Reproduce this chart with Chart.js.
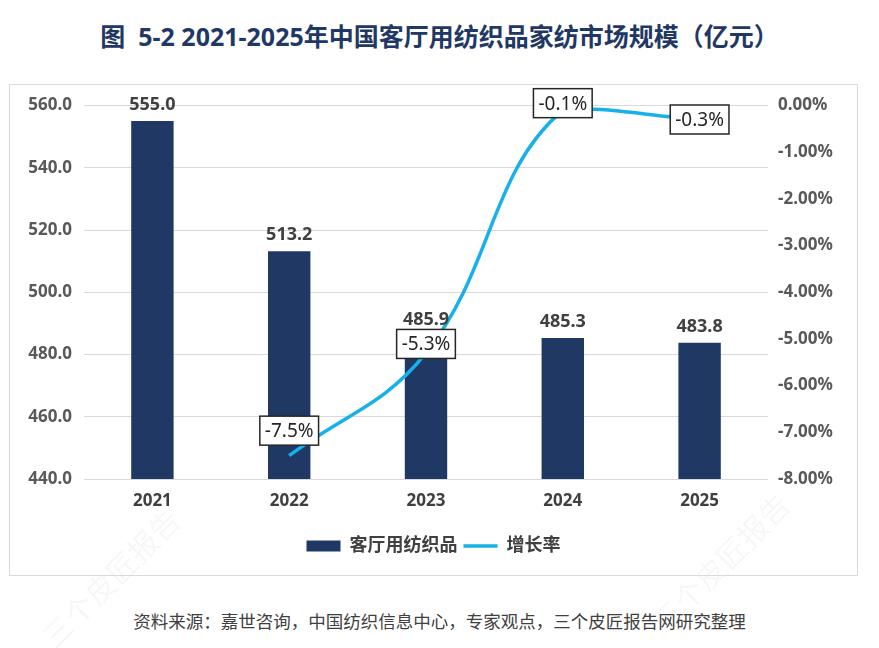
<!DOCTYPE html>
<html>
<head>
<meta charset="utf-8">
<script src="https://cdn.jsdelivr.net/npm/chart.js@4"></script>
<style>
body{margin:0;width:879px;height:648px;background:#fff;position:relative;overflow:hidden;font-family:"Noto Sans","Noto Sans CJK SC",sans-serif;}
#title{position:absolute;left:0;width:879px;top:17px;text-align:center;font-size:25px;font-weight:bold;color:#1f3864;white-space:pre;}
#box{position:absolute;left:9px;top:84px;width:847px;height:490px;border:1px solid #d9d9d9;}
#src{position:absolute;left:0;width:879px;top:608px;text-align:center;font-size:17.5px;color:#404040;}
.wm{position:absolute;font-size:30px;color:rgba(0,0,0,0.05);transform:rotate(-45deg);font-family:"Noto Sans CJK SC";}
</style>
</head>
<body>
<div id="title">图  5-2 2021-2025年中国客厅用纺织品家纺市场规模（亿元）</div>
<div class="wm" style="left:20px;top:555px;">三个皮匠报告</div>
<div class="wm" style="left:630px;top:540px;">三个皮匠报告</div>
<div id="box"><canvas id="c" width="847" height="490"></canvas></div>
<div id="src">资料来源：嘉世咨询，中国纺织信息中心，专家观点，三个皮匠报告网研究整理</div>
<script>
const years = ['2021','2022','2023','2024','2025'];
const marketSize = [555.0, 513.2, 485.9, 485.3, 483.8];
const growthRate = [null, -7.5, -5.3, -0.1, -0.3];
const leftTicks = [440, 460, 480, 500, 520, 540, 560];
const rightTicks = [-8, -7, -6, -5, -4, -3, -2, -1, 0];

const barColor = '#1f3864';
const lineColor = '#17b0e8';
const txt = '#404040';

// label nudges for the boxed growth values (pixels, as placed in the original)
const boxShift = [0, -25, -9, -7, 0];

const labelsPlugin = {
	id: 'labels',
	afterDatasetsDraw(chart){
		const ctx = chart.ctx;
		ctx.save();
		ctx.font = 'bold 18px "Noto Sans","Noto Sans CJK SC"';
		ctx.fillStyle = txt;
		ctx.textAlign = 'center';
		ctx.textBaseline = 'bottom';
		chart.getDatasetMeta(0).data.forEach((b, i) => {
			ctx.fillText(marketSize[i].toFixed(1), b.x, b.y - 7);
		});
		ctx.font = '19px "Noto Sans","Noto Sans CJK SC"';
		ctx.textBaseline = 'middle';
		chart.getDatasetMeta(1).data.forEach((p, i) => {
			if (growthRate[i] == null) return;
			const s = growthRate[i].toFixed(1) + '%';
			const w = ctx.measureText(s).width + 10, h = 29;
			const cy = p.y + boxShift[i];
			ctx.fillStyle = '#fff';
			ctx.fillRect(p.x - w/2, cy - h/2, w, h);
			ctx.lineWidth = 1.5;
			ctx.strokeStyle = '#262626';
			ctx.strokeRect(p.x - w/2, cy - h/2, w, h);
			ctx.fillStyle = '#262626';
			ctx.fillText(s, p.x, cy + 1);
		});
		ctx.restore();
	}
};

Chart.defaults.font.family = '"Noto Sans","Noto Sans CJK SC",sans-serif';

const chart = new Chart(document.getElementById('c'), {
	type: 'bar',
	data: {
		labels: years,
		datasets: [
			{label: '客厅用纺织品', data: marketSize, backgroundColor: barColor, yAxisID: 'y', order: 2, barPercentage: 0.62, categoryPercentage: 0.5, pointStyle: 'rect'},
			{label: '增长率', type: 'line', data: growthRate, borderColor: lineColor, backgroundColor: lineColor, borderWidth: 3.5, tension: 0.4, pointRadius: 0, yAxisID: 'y1', order: 1, pointStyle: 'line'}
		]
	},
	options: {
		responsive: false,
		animation: false,
		layout: {padding: {top: 19, bottom: 10}},
		plugins: {
			tooltip: {enabled: false},
			legend: {
				position: 'bottom',
				labels: {usePointStyle: true, pointStyleWidth: 34, boxHeight: 11, padding: 6, color: txt, font: {size: 18, weight: 'bold'},
					sort: (a, b) => a.datasetIndex - b.datasetIndex}
			}
		},
		scales: {
			x: {
				grid: {display: false},
				border: {display: false},
				ticks: {color: txt, padding: 4, font: {size: 17, weight: 'bold'}},
				afterFit: s => { s.height = 52; }
			},
			y: {
				position: 'left',
				min: 440, max: 560,
				afterBuildTicks: s => { s.ticks = leftTicks.map(v => ({value: v})); },
				grid: {color: '#d9d9d9', drawTicks: false},
				border: {display: false},
				ticks: {color: '#595959', padding: 12, font: {size: 17, weight: 'bold', lineHeight: 1}, callback: v => v.toFixed(1)},
				afterFit: s => { s.width = 74; }
			},
			y1: {
				position: 'right',
				min: -8, max: 0,
				afterBuildTicks: s => { s.ticks = rightTicks.map(v => ({value: v})); },
				grid: {display: false, drawTicks: false},
				border: {display: false},
				ticks: {color: '#595959', padding: 10, font: {size: 17, weight: 'bold', lineHeight: 1}, callback: v => v.toFixed(2) + '%'},
				afterFit: s => { s.width = 89; }
			}
		}
	},
	plugins: [labelsPlugin]
});
</script>
</body>
</html>
